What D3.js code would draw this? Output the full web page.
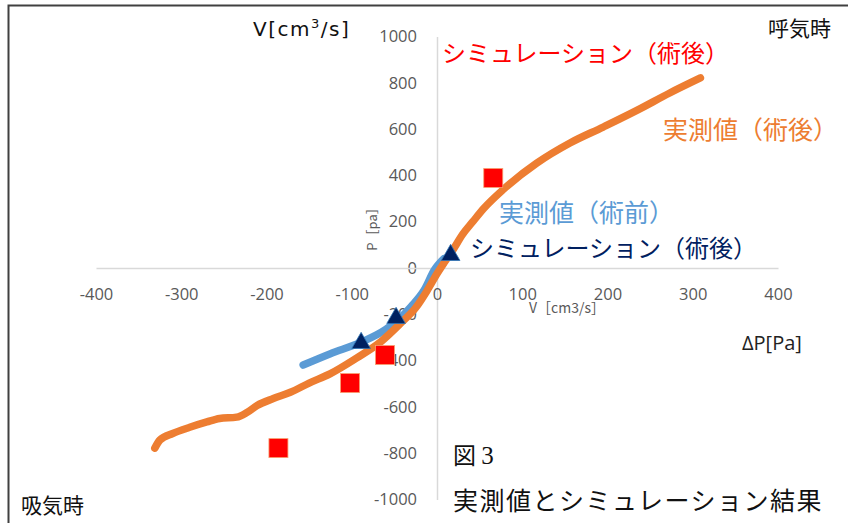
<!DOCTYPE html>
<html>
<head>
<meta charset="utf-8">
<script src="https://cdn.jsdelivr.net/npm/d3@7"></script>
<style>
  html, body { margin: 0; padding: 0; background: #fff; }
  svg { display: block; }
  .tick text { font-family: "Open Sans", sans-serif; font-size: 16.5px; fill: #595959; }
  .jp { font-family: "Noto Sans CJK JP", sans-serif; }
</style>
</head>
<body>
<svg id="chart" width="848" height="523"></svg>
<script>
// Axis ticks
const xTicks = [-400, -300, -200, -100, 0, 100, 200, 300, 400];
const yTicks = [-1000, -800, -600, -400, -200, 0, 200, 400, 600, 800, 1000];

// Measured flow (x = V [cm3/s]) vs pressure (y = ΔP [Pa]), after surgery
const measuredAfter = [
  [-331, -778], [-325, -743], [-310, -715], [-290, -688], [-270, -665],
  [-255, -650], [-235, -644], [-223, -624], [-211, -594], [-192, -564],
  [-172, -537], [-150, -497], [-125, -456], [-94, -388], [-67, -322],
  [-43, -240], [-25, -172], [-12, -100], [0, -25], [9, 26], [20, 86],
  [30, 145], [42, 200], [55, 258], [78, 340], [117, 453], [156, 540],
  [195, 609], [235, 682], [273, 756], [309, 821]
];

// Measured, before surgery
const measuredBefore = [
  [-157, -419], [-125, -370], [-90, -322], [-60, -265], [-45, -222],
  [-30, -165], [-15, -95], [-3, -8], [8, 40]
];

// Simulation (after surgery), red squares
const simRed = [[66, 389], [-61, -376], [-102, -497], [-186, -778]];

// Simulation (after surgery), navy triangles
const simNavy = [[-89, -320], [-48, -212], [16, 60]];

// Series captions
const seriesLabels = [
  { text: "シミュレーション（術後）", color: "#ff0000", x: 442, y: 53, size: 24 },
  { text: "実測値（術後）", color: "#ed7d31", x: 663, y: 130, size: 25 },
  { text: "実測値（術前）", color: "#5b9bd5", x: 499, y: 213, size: 25 },
  { text: "シミュレーション（術後）", color: "#002060", x: 470, y: 248, size: 24 }
];

const svg = d3.select("#chart");

// frame
svg.append("rect")
  .attr("x", 8.5).attr("y", 5.5).attr("width", 860).attr("height", 540)
  .attr("fill", "none").attr("stroke", "#404040").attr("stroke-width", 2);

const x = d3.scaleLinear().domain([-400, 400]).range([96, 778]);
const y = d3.scaleLinear().domain([-1000, 1000]).range([499.5, 36.5]);
const fmt = d => String(d);

// axes crossing at the origin
const yAxis = svg.append("g")
  .attr("transform", `translate(${x(0)},0)`)
  .call(d3.axisLeft(y).tickValues(yTicks).tickFormat(fmt)
    .tickSize(0).tickSizeOuter(0).tickPadding(20));
const xAxis = svg.append("g")
  .attr("transform", `translate(0,${y(0)})`)
  .call(d3.axisBottom(x).tickValues(xTicks).tickFormat(fmt)
    .tickSize(0).tickSizeOuter(0).tickPadding(20));
[xAxis, yAxis].forEach(g => g.select(".domain").attr("stroke", "#d9d9d9").attr("stroke-width", 1.5));

// axis titles
svg.append("text").attr("class", "jp")
  .attr("transform", `translate(377,226) rotate(-90)`)
  .attr("text-anchor", "middle")
  .attr("font-size", 13).attr("fill", "#595959")
  .text("P［pa］");
svg.append("text").attr("class", "jp")
  .attr("x", 567).attr("y", 313)
  .attr("text-anchor", "middle")
  .attr("font-size", 14).attr("fill", "#595959")
  .text("V［cm3/s］");

// series
const line = d3.line().x(d => x(d[0])).y(d => y(d[1])).curve(d3.curveMonotoneX);

svg.append("path").datum(measuredBefore)
  .attr("d", line).attr("fill", "none")
  .attr("stroke", "#5b9bd5").attr("stroke-width", 7.5)
  .attr("stroke-linecap", "round").attr("stroke-linejoin", "round");

svg.append("path").datum(measuredAfter)
  .attr("d", line).attr("fill", "none")
  .attr("stroke", "#ed7d31").attr("stroke-width", 7.5)
  .attr("stroke-linecap", "round").attr("stroke-linejoin", "round");

const sq = 19;
svg.append("g").selectAll("rect").data(simRed).join("rect")
  .attr("x", d => x(d[0]) - sq / 2).attr("y", d => y(d[1]) - sq / 2)
  .attr("width", sq).attr("height", sq)
  .attr("fill", "#ff0000").attr("stroke", "#f8a070").attr("stroke-width", 0.8);

const tri = d3.symbol().type(d3.symbolTriangle).size(150);
svg.append("g").selectAll("path").data(simNavy).join("path")
  .attr("transform", d => `translate(${x(d[0])},${y(d[1]) + 1})`)
  .attr("d", tri)
  .attr("fill", "#002060").attr("stroke", "#2e75b6").attr("stroke-width", 0.8);

// captions
svg.append("g").selectAll("text").data(seriesLabels).join("text")
  .attr("class", "jp")
  .attr("x", d => d.x).attr("y", d => d.y)
  .attr("dy", "0.36em")
  .attr("font-size", d => d.size)
  .attr("fill", d => d.color)
  .text(d => d.text);

// corner labels
const vTitle = svg.append("text")
  .attr("x", 253).attr("y", 36)
  .attr("font-family", "DejaVu Sans, sans-serif").attr("font-size", 20)
  .attr("letter-spacing", 1.5).attr("fill", "#111");
vTitle.append("tspan").text("V[cm");
vTitle.append("tspan").attr("dy", -8).attr("font-size", 13).text("3");
vTitle.append("tspan").attr("dy", 8).text("/s]");

svg.append("text").attr("class", "jp")
  .attr("x", 768).attr("y", 28).attr("dy", "0.36em")
  .attr("font-size", 21).attr("fill", "#111").text("呼気時");
svg.append("text").attr("class", "jp")
  .attr("x", 21).attr("y", 505).attr("dy", "0.36em")
  .attr("font-size", 21).attr("fill", "#111").text("吸気時");

svg.append("text")
  .attr("x", 742).attr("y", 343).attr("dy", "0.36em")
  .attr("font-family", "Open Sans, sans-serif").attr("font-size", 20)
  .attr("fill", "#222").text("ΔP[Pa]");

const fig = svg.append("text").attr("class", "jp")
  .attr("x", 453).attr("y", 456).attr("dy", "0.36em")
  .attr("font-size", 23).attr("fill", "#111");
fig.append("tspan").text("図 ");
fig.append("tspan").attr("font-family", "Liberation Serif, serif").attr("font-size", 25).text("3");

svg.append("text").attr("class", "jp")
  .attr("x", 453).attr("y", 501).attr("dy", "0.36em")
  .attr("font-size", 25).attr("letter-spacing", 1.5).attr("fill", "#111")
  .text("実測値とシミュレーション結果");
</script>
</body>
</html>
